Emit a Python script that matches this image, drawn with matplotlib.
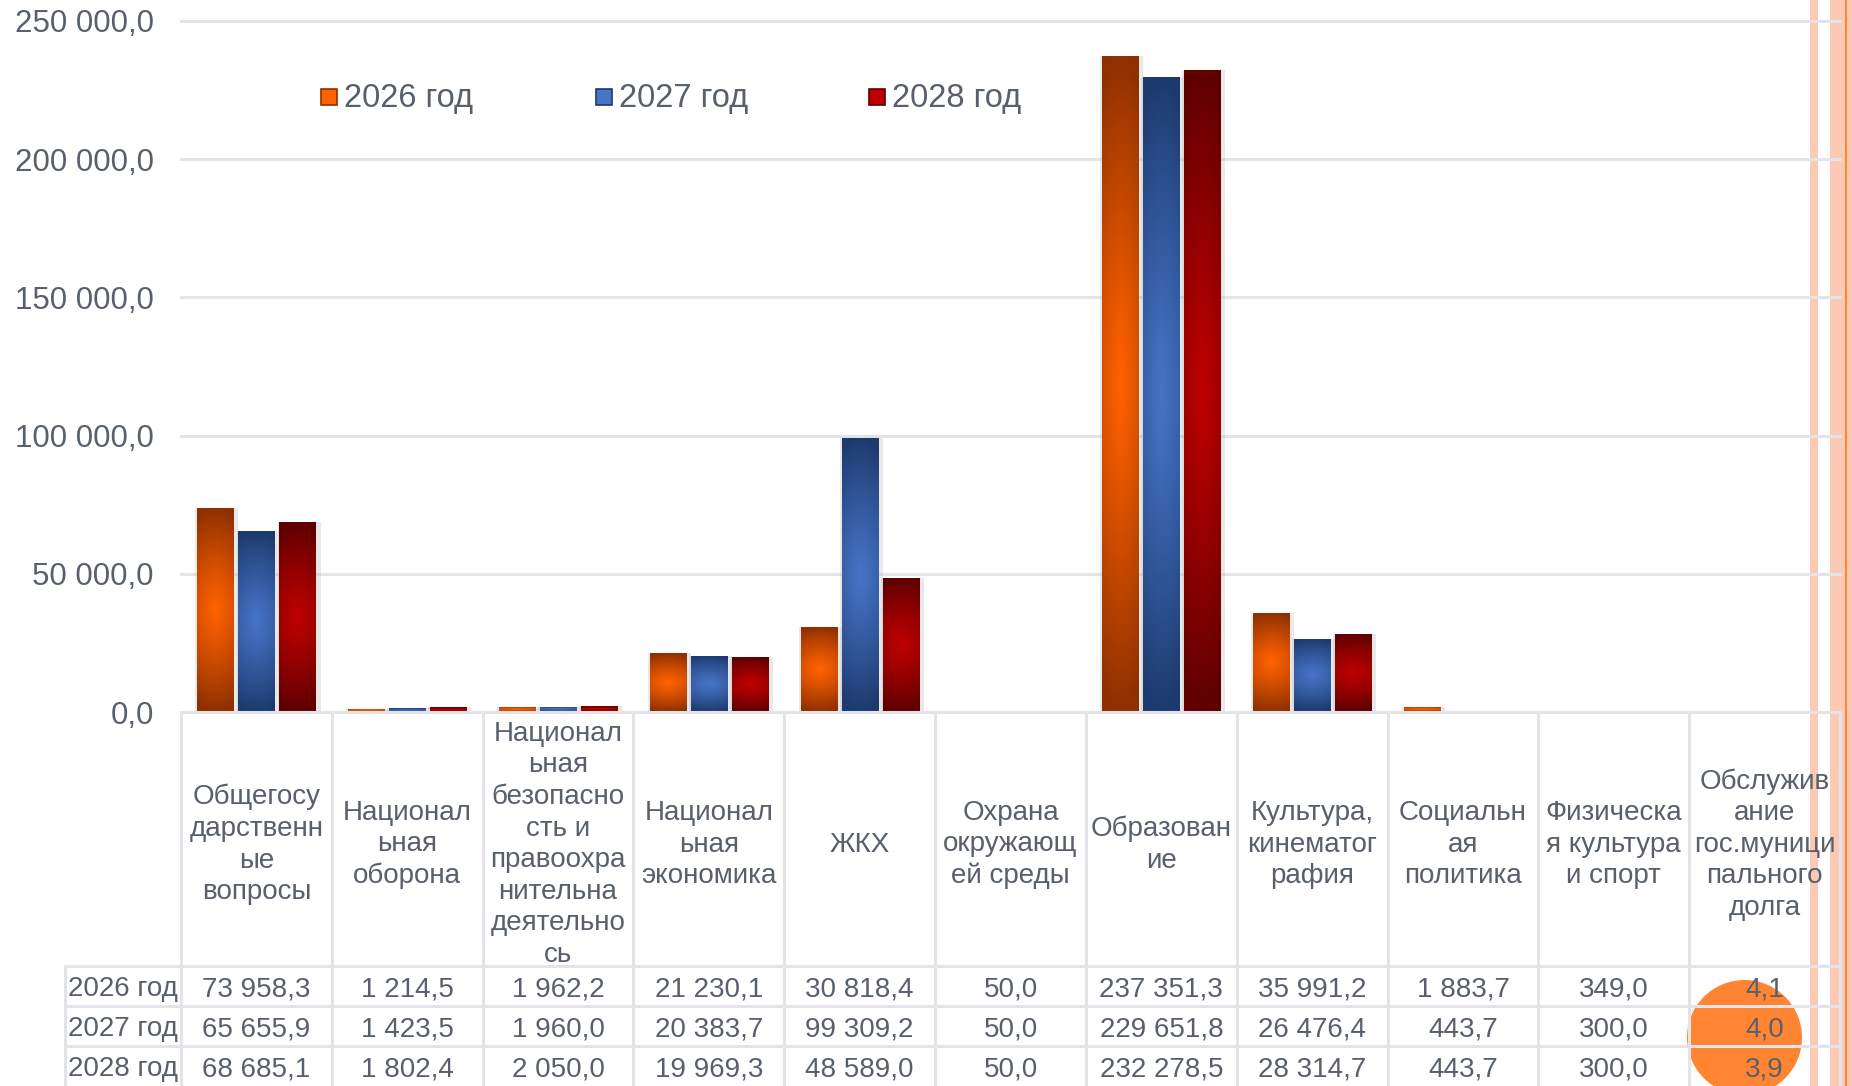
import numpy as np
import matplotlib
matplotlib.use("Agg")
import matplotlib.pyplot as plt
from matplotlib.patches import Rectangle, Circle
from matplotlib.colors import to_rgb
from matplotlib.transforms import blended_transform_factory

plt.rcParams['font.family'] = ['Liberation Sans', 'DejaVu Sans']

# ---------------- data ----------------
categories = [
    "Общегосу\nдарственн\nые\nвопросы",
    "Национал\nьная\nоборона",
    "Национал\nьная\nбезопасно\nсть и\nправоохра\nнительна\nдеятельно\nсь",
    "Национал\nьная\nэкономика",
    "ЖКХ",
    "Охрана\nокружающ\nей среды",
    "Образован\nие",
    "Культура,\nкинематог\nрафия",
    "Социальн\nая\nполитика",
    "Физическа\nя культура\nи спорт",
    "Обслужив\nание\nгос.муници\nпального\nдолга",
]
series_names = ["2026 год", "2027 год", "2028 год"]
v2026 = [73958.3, 1214.5, 1962.2, 21230.1, 30818.4, 50.0, 237351.3, 35991.2, 1883.7, 349.0, 4.1]
v2027 = [65655.9, 1423.5, 1960.0, 20383.7, 99309.2, 50.0, 229651.8, 26476.4, 443.7, 300.0, 4.0]
v2028 = [68685.1, 1802.4, 2050.0, 19969.3, 48589.0, 50.0, 232278.5, 28314.7, 443.7, 300.0, 3.9]
yticks = [0, 50000, 100000, 150000, 200000, 250000]
ytick_labels = ["0,0", "50 000,0", "100 000,0", "150 000,0", "200 000,0", "250 000,0"]

series = [v2026, v2027, v2028]
bright = ["#FF6200", "#4674C6", "#BE0000"]
dark = ["#8E3000", "#1D3A6E", "#5E0000"]

TXT = "#58606C"
GRID = "#E3E3E8"

W, H = 1852, 1086
fig = plt.figure(figsize=(W / 100, H / 100), dpi=100)
fig.patch.set_facecolor("white")

# ---------------- background decoration ----------------
bg = fig.add_axes([0, 0, 1, 1], zorder=0)
bg.set_xlim(0, W); bg.set_ylim(H, 0); bg.axis("off")
bg.add_patch(Rectangle((1810, 0), 8, H, color="#FCC9B5", lw=0))
bg.add_patch(Rectangle((1830, 0), 22, H, color="#FCC9B5", lw=0))
bg.add_patch(Rectangle((1844.6, 0), 2.2, H, color="#FF8533", lw=0))

# ---------------- main axes ----------------
ax = fig.add_axes([181 / W, (H - 712) / H, (1840 - 181) / W, (712 - 21) / H], zorder=1)
ax.patch.set_alpha(0)
ax.set_xlim(-0.5, len(categories) - 0.5)
ax.set_ylim(0, 250000)
for s in ax.spines.values():
    s.set_visible(False)
ax.set_yticks(yticks)
ax.set_yticklabels(ytick_labels, fontsize=22.5, color=TXT)
ax.tick_params(axis="y", length=0, pad=19.5)
ax.set_xticks([])
ax.yaxis.grid(True, color=GRID, linewidth=2.2)
ax.set_axisbelow(True)
for gl in ax.get_ygridlines():
    gl.set_clip_on(False)

# gradient texture
ny, nx = 240, 40
yy = np.linspace(-1, 1, ny)[:, None]
xx = np.linspace(-1, 1, nx)[None, :]
tt = np.clip(np.sqrt(yy ** 2 + 0.15 * xx ** 2), 0, 1) ** 1.15


def grad_img(c_bright, c_dark):
    b = np.array(to_rgb(c_bright)); d = np.array(to_rgb(c_dark))
    return b[None, None, :] * (1 - tt[..., None]) + d[None, None, :] * tt[..., None]


bw = 0.24
step = 0.272
x = np.arange(len(categories))
for si, vals in enumerate(series):
    img = grad_img(bright[si], dark[si])
    for i, v in enumerate(vals):
        x0 = x[i] + (si - 1) * step - bw / 2
        # soft shadow
        ax.add_patch(Rectangle((x0 - 0.012, 0), bw + 0.045, v, color="#B8B8B8",
                               alpha=0.3, lw=0, zorder=1.5))
        rect = Rectangle((x0, 0), bw, v, facecolor="none", edgecolor="none", zorder=2)
        ax.add_patch(rect)
        im = ax.imshow(img, extent=[x0, x0 + bw, 0, v], origin="lower", aspect="auto",
                       interpolation="bilinear", zorder=2)
        im.set_clip_path(rect)
ax.set_xlim(-0.5, len(categories) - 0.5)
ax.set_ylim(0, 250000)
ax.set_aspect("auto")

# ---------------- legend ----------------
leg_x = [321, 596, 869]
ov = fig.add_axes([0, 0, 1, 1], zorder=3)
ov.set_xlim(0, W); ov.set_ylim(H, 0); ov.axis("off"); ov.patch.set_alpha(0)
for si, name in enumerate(series_names):
    ov.add_patch(Rectangle((leg_x[si], 89), 16, 16, facecolor=bright[si],
                           edgecolor=dark[si], lw=1.2))
    ov.text(leg_x[si] + 23, 98, name, fontsize=23.5, color=TXT, va="center", ha="left")

# ---------------- data table ----------------
trans = blended_transform_factory(ax.transData, ov.transData)
top, hdr_bot = 712, 966
row_y = [966, 1006, 1046, 1086]
ov.add_patch(Circle((1744.5, 1037.5), 57.5, color="#FF8533", lw=0, zorder=1))

for k in range(len(categories) + 1):
    ov.plot([k - 0.5, k - 0.5], [top, H], transform=trans, color=GRID, lw=2.2,
            zorder=2, solid_capstyle="butt")
ov.plot([65, 65], [hdr_bot, H], color=GRID, lw=2.2, zorder=2)
ov.plot([-0.5, len(categories) - 0.5], [top, top], transform=trans, color=GRID, lw=2.2, zorder=2)
for ry in row_y[:3]:
    ov.plot([65, 1840], [ry, ry], color=GRID, lw=2.2, zorder=2)

for i, c in enumerate(categories):
    ov.text(i, (top + hdr_bot) / 2 + 5.5, c, transform=trans, ha="center", va="center",
            multialignment="center", fontsize=20, color=TXT, linespacing=1.28, zorder=3)


def fmt(v):
    return f"{v:,.1f}".replace(",", " ").replace(".", ",")


for si, vals in enumerate(series):
    yc = (row_y[si] + row_y[si + 1]) / 2 + 3.5
    ov.text(123, yc, series_names[si], ha="center", va="center", fontsize=20, color=TXT, zorder=3)
    for i, v in enumerate(vals):
        ov.text(i, yc, fmt(v), transform=trans, ha="center", va="center",
                fontsize=20, color=TXT, zorder=3)

fig.savefig("out.png", dpi=100, facecolor="white")
